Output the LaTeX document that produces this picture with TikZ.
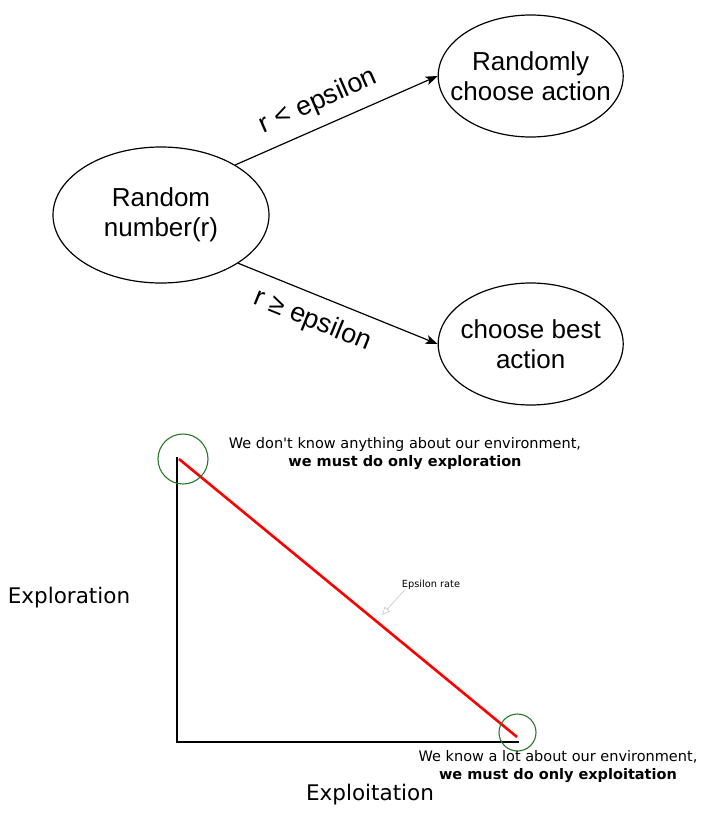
\documentclass[tikz,border=0pt]{standalone}
\usepackage{fontspec}
\setmainfont{Liberation Sans}
\newfontfamily\notefont{DejaVu Sans}
\usetikzlibrary{positioning,shapes.geometric,arrows.meta}
\definecolor{ringgreen}{RGB}{40,120,40}
\newcommand{\EpsGreedyStateFont}{\fontsize{26}{29.5}\selectfont}
\newcommand{\EpsGreedyNoteFont}{\notefont\fontsize{14.5}{18}\selectfont}
\newcommand{\EpsGreedyAxisFont}{\notefont\fontsize{21.5}{25}\selectfont}

\begin{document}
\begin{tikzpicture}[x=1pt, y=-1pt,
		state/.style={ellipse, draw, line width=1.2pt, minimum width=185pt, minimum height=122pt, inner xsep=-25pt, inner ysep=0pt, align=center, font=\EpsGreedyStateFont},
		choice/.style={-{Stealth[length=12pt, width=9pt, inset=3pt]}, line width=1.2pt},
		ring/.style={circle, draw=ringgreen, line width=1.1pt, inner sep=0pt},
		note/.style={align=center, inner sep=0pt, font=\EpsGreedyNoteFont},
		axislabel/.style={inner sep=0pt, font=\EpsGreedyAxisFont}]
	\useasboundingbox (0,0) rectangle (718,817);
	% decision part
	\node[state, minimum width=216pt, minimum height=136pt] (rnd) at (161,215) {Random\\number(r)};
	\node[state, right=168pt of rnd, yshift=139pt] (rca) {Randomly\\choose action};
	\node[state, right=168pt of rnd, yshift=-129pt] (cba) {choose best\\action};
	\draw[choice] (rnd.34) -- (rca.west) node[pos=0.46, sloped, above=8pt, font=\fontsize{27}{30}\selectfont] {r < epsilon};
	\draw[choice] (rnd.-32) -- (cba.west) node[pos=0.42, sloped, below=9pt, font=\fontsize{27}{30}\selectfont] {r ≥ epsilon};
	% exploration / exploitation part
	\coordinate (top) at (177,457);
	\coordinate (corner) at (177,742);
	\coordinate (far) at (519,742);
	\coordinate (start) at (179,459);
	\coordinate (stop) at (517,737);
	\draw[line width=1.8pt] (top) -- (corner) -- (far);
	\draw[red, line width=2.6pt] (start) -- (stop);
	\node[ring, minimum size=50pt] (rstart) at (183,459) {};
	\node[ring, minimum size=37pt] (rstop) at (517.5,732.5) {};
	\node[note] (nofit) at (405,454) {We don't know anything about our environment,\\\textbf{we must do only exploration}};
	\node[note] (fit) at (558,767) {We know a lot about our environment,\\\textbf{we must do only exploitation}};
	\node[axislabel] (explore) at (69,598) {Exploration};
	\node[axislabel] (exploit) at (370,795) {Exploitation};
	\node[inner sep=0pt, font=\notefont\fontsize{9.8}{12}\selectfont] (rate) at (431,585) {Epsilon rate};
	\coordinate (ratetip) at (382,615);
	\draw[gray!45, line width=0.6pt, -{Triangle[open, length=8pt, width=7pt]}] (rate.south west) ++(3,0) -- (ratetip);
\end{tikzpicture}
\end{document}
